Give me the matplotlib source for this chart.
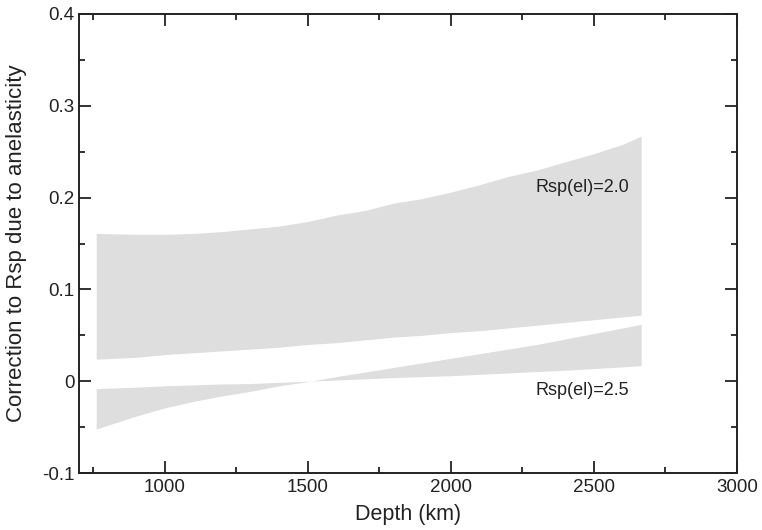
import numpy as np
import matplotlib
matplotlib.use("Agg")
import matplotlib.pyplot as plt
from matplotlib.ticker import MultipleLocator, FuncFormatter

plt.rcParams['font.family'] = ['Liberation Sans', 'DejaVu Sans']
plt.rcParams['axes.unicode_minus'] = False

# depth grid (km) and band edges
depth = [760, 900, 1000, 1100, 1200, 1300, 1400, 1500, 1600, 1700,
         1800, 1900, 2000, 2100, 2200, 2300, 2400, 2500, 2600, 2665]

# Rsp(el)=2.0 band
upper_20 = [0.161, 0.160, 0.160, 0.161, 0.163, 0.166, 0.169, 0.174, 0.181, 0.186,
            0.194, 0.199, 0.206, 0.214, 0.223, 0.230, 0.239, 0.248, 0.258, 0.267]
lower_20 = [0.024, 0.026, 0.029, 0.031, 0.033, 0.035, 0.037, 0.040, 0.042, 0.045,
            0.048, 0.050, 0.053, 0.055, 0.058, 0.061, 0.064, 0.067, 0.070, 0.072]

# Rsp(el)=2.5 band (the two edges cross near 1500 km)
edge_a_25 = [-0.008, -0.0065, -0.005, -0.004, -0.003, -0.0025, -0.0012, 0.0, 0.0013, 0.0026,
             0.004, 0.005, 0.006, 0.0075, 0.009, 0.0105, 0.012, 0.0138, 0.0156, 0.017]
edge_b_25 = [-0.052, -0.038, -0.029, -0.022, -0.016, -0.011, -0.005, -0.0005, 0.005, 0.010,
             0.015, 0.020, 0.025, 0.030, 0.035, 0.040, 0.046, 0.052, 0.058, 0.062]

labels = ['Rsp(el)=2.0', 'Rsp(el)=2.5']
label_pos = [(2623, 0.211), (2623, -0.010)]

fig = plt.figure(figsize=(7.62, 5.30), dpi=100)
ax = fig.add_axes([0.1037, 0.1075, 0.8635, 0.8661])

fill_color = '#dedede'
ax.fill_between(depth, lower_20, upper_20, color=fill_color, lw=0)
ax.fill_between(depth, edge_b_25, edge_a_25, color=fill_color, lw=0)

for txt, (x, y) in zip(labels, label_pos):
    ax.text(x, y, txt, ha='right', va='center', fontsize=13, color='#222222')

ax.set_xlim(700, 3000)
ax.set_ylim(-0.1, 0.4)
ax.xaxis.set_major_locator(MultipleLocator(500))
ax.xaxis.set_minor_locator(MultipleLocator(250))
ax.yaxis.set_major_locator(MultipleLocator(0.1))
ax.yaxis.set_minor_locator(MultipleLocator(0.05))
ax.yaxis.set_major_formatter(FuncFormatter(lambda v, p: '%g' % round(v, 2)))

ax.tick_params(which='both', direction='in', top=True, right=True,
               labelsize=13.5, width=1.3, colors='#222222')
ax.tick_params(which='major', length=8.5)
ax.tick_params(which='minor', length=4.5)
ax.tick_params(axis='x', pad=4)
ax.tick_params(axis='y', pad=3)
for s in ax.spines.values():
    s.set_linewidth(1.4)
    s.set_color('#222222')

ax.set_xlabel('Depth (km)', fontsize=15.5, labelpad=6, color='#222222')
ax.set_ylabel('Correction to Rsp due to anelasticity', fontsize=16, labelpad=11,
              color='#222222')

fig.savefig('out.png', dpi=100)
